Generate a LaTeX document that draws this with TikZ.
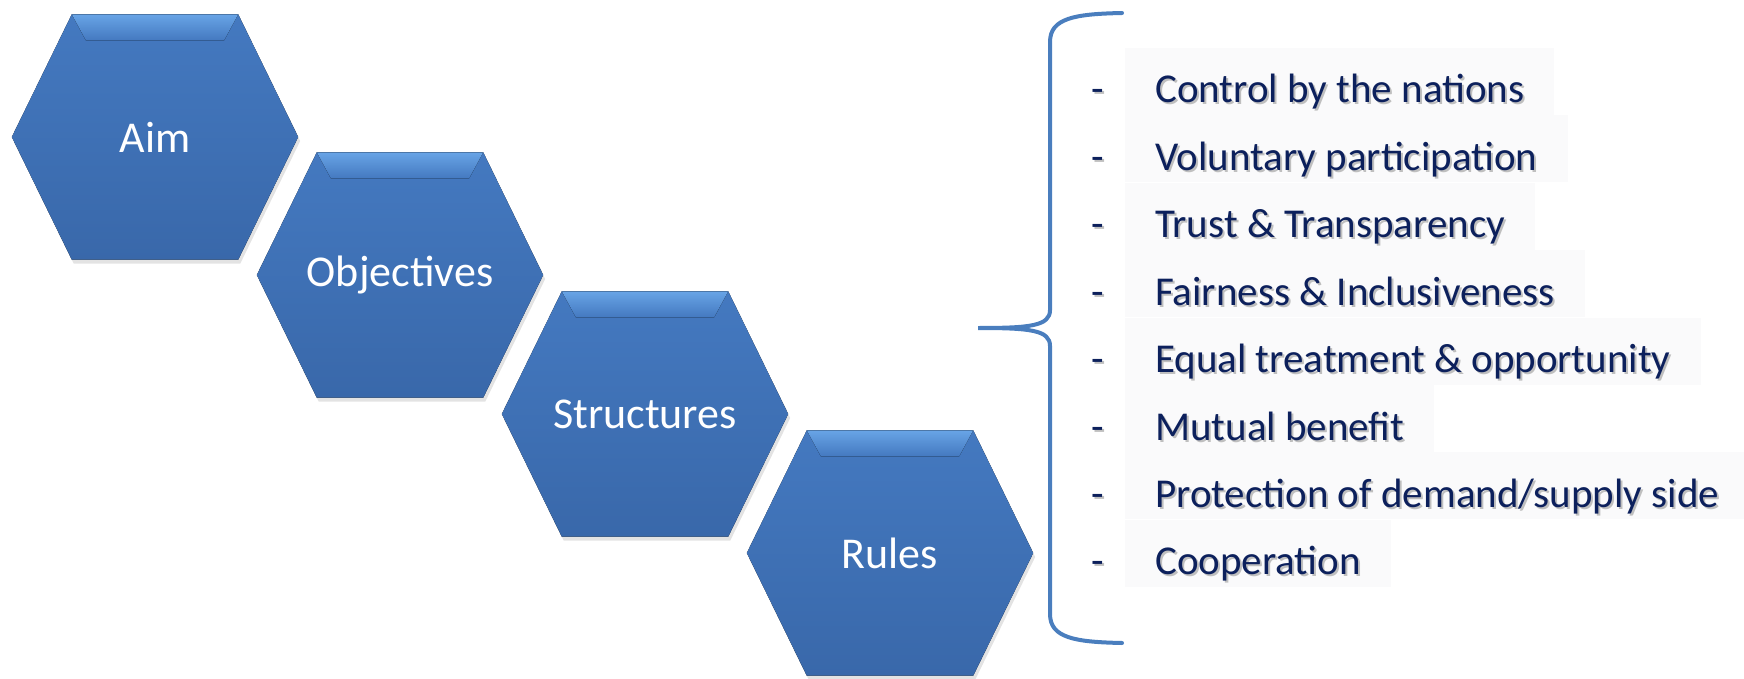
\documentclass[tikz,border=0pt]{standalone}
\usepackage{fontspec}
\setmainfont{Carlito}
\usetikzlibrary{positioning}
\usetikzlibrary{backgrounds}
\usetikzlibrary{shadows}
\definecolor{hexhi}{RGB}{104,164,230}
\definecolor{hextop}{RGB}{68,121,192}
\definecolor{hexbot}{RGB}{57,104,170}
\definecolor{navy}{RGB}{12,32,92}
\definecolor{bracecol}{RGB}{74,126,190}
\definecolor{rowgray}{RGB}{250,250,251}
\newcommand\shadowed[1]{\rlap{\kern2pt\raisebox{-2pt}{\color{black!25}#1}}#1}
\tikzset{x=1pt, y=-1pt, % one unit is one pixel of the reference
hexnode/.style={ % label box of a hexagon
rectangle, inner sep=0pt,
minimum width=286pt, minimum height=245pt,
text=white, font=\fontsize{44}{52}\selectfont},
hexbody/.style={
top color=hextop, bottom color=hexbot,
drop shadow={opacity=.22, shadow xshift=2pt, shadow yshift=-4pt}},
hexbevel/.style={top color=hexhi, bottom color=hextop},
item/.style={ % one line of the list
anchor=base west, fill=rowgray,
inner xsep=30pt, inner ysep=0pt,
text height=55pt, text depth=12pt,
text=navy, font=\fontsize{41}{49}\selectfont},
dashmark/.style={anchor=base, inner sep=0pt,
text=navy, font=\fontsize{41}{49}\selectfont},
brace/.style={draw=bracecol, line width=4pt, line cap=round}}

\begin{document}
\begin{tikzpicture}
\useasboundingbox (0,0) rectangle (1744,679);

% hexagons
\node[hexnode] (aim) at (155,137) {Aim};
\node[hexnode] (obj) at (400,275) {Objectives};
\node[hexnode] (str) at (645,414) {Structures};
\node[hexnode] (rul) at (890,553) {Rules};

\begin{scope}[on background layer]
\foreach \h in {aim,obj,str,rul} {
\fill[hexbody] (\h.west) -- ([xshift=60pt]\h.north west) -- ([xshift=-60pt]\h.north east)
  -- (\h.east) -- ([xshift=-60pt]\h.south east) -- ([xshift=60pt]\h.south west) -- cycle;
\fill[hexbevel] ([xshift=60pt]\h.north west) -- ([xshift=-60pt]\h.north east)
  -- ([xshift=-74pt,yshift=-26pt]\h.north east) -- ([xshift=74pt,yshift=-26pt]\h.north west) -- cycle;
}
\end{scope}

% brace
\draw[brace] (1122,13) .. controls (1075,14) and (1050,18) .. (1050,42) -- (1050,310)
  .. controls (1050,326) and (1030,328) .. (978,328)
  .. controls (1030,328) and (1050,330) .. (1050,346) -- (1050,614)
  .. controls (1050,638) and (1075,642) .. (1122,643);

% list
\node[item] (c1) at (1125,103) {\shadowed{Control by the nations}};
\node[item, below=0pt of c1.south west, anchor=north west] (c2) {\shadowed{Voluntary participation}};
\node[item, below=0pt of c2.south west, anchor=north west] (c3) {\shadowed{Trust \& Transparency}};
\node[item, below=0pt of c3.south west, anchor=north west] (c4) {\shadowed{Fairness \& Inclusiveness}};
\node[item, below=0pt of c4.south west, anchor=north west] (c5) {\shadowed{Equal treatment \& opportunity}};
\node[item, below=0pt of c5.south west, anchor=north west] (c6) {\shadowed{Mutual benefit}};
\node[item, below=0pt of c6.south west, anchor=north west] (c7) {\shadowed{Protection of demand/supply side}};
\node[item, below=0pt of c7.south west, anchor=north west] (c8) {\shadowed{Cooperation}};

\foreach \c in {c1,c2,c3,c4,c5,c6,c7,c8}
\node[dashmark] at ([xshift=-27pt]\c.base west) {\shadowed{-}};
\end{tikzpicture}
\end{document}
